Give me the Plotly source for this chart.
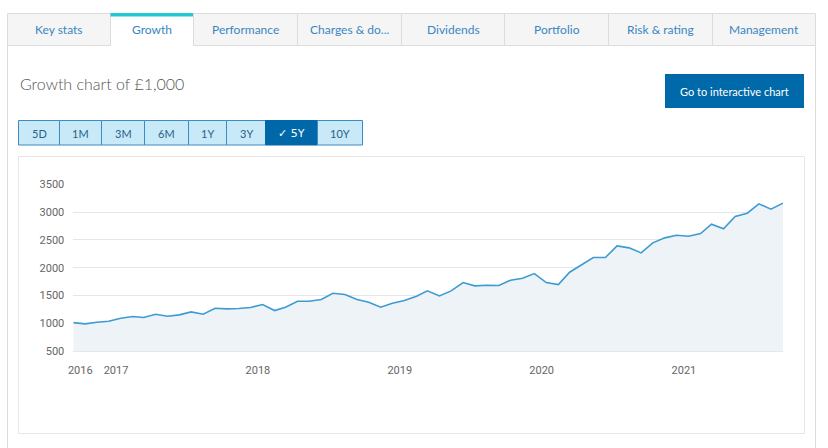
import plotly.graph_objects as go

# ---- data ----
dates = [f"{2016 + (8 + i) // 12}-{(8 + i) % 12 + 1:02d}-13" for i in range(61)]
values = [1010, 988, 1018, 1036, 1090, 1120, 1102, 1162, 1126, 1150,
          1204, 1162, 1270, 1258, 1264, 1282, 1336, 1228, 1288, 1396,
          1396, 1426, 1540, 1516, 1426, 1378, 1288, 1360, 1410, 1486,
          1582, 1492, 1582, 1732, 1672, 1684, 1678, 1774, 1810, 1894,
          1732, 1696, 1918, 2050, 2182, 2182, 2392, 2356, 2266, 2446,
          2536, 2584, 2566, 2614, 2782, 2698, 2920, 2980, 3148, 3052,
          3160]
year_ticks = ["2016-10-01", "2017-01-01", "2018-01-01", "2019-01-01", "2020-01-01", "2021-01-01"]
year_labels = ["2016", "2017", "2018", "2019", "2020", "2021"]
y_ticks = [500, 1000, 1500, 2000, 2500, 3000, 3500]
tabs = ["Key stats", "Growth", "Performance", "Charges & do...", "Dividends",
        "Portfolio", "Risk & rating", "Management"]
active_tab = 1
periods = ["5D", "1M", "3M", "6M", "1Y", "3Y", "\u2713 5Y", "10Y"]
active_period = 6
title_text = "Growth chart of \u00a31,000"
button_text = "Go to interactive chart"

W, H = 828, 448


def px(x):
    return x / W


def py(y):
    return 1 - y / H


FONT = "Lato"
shapes = []
annotations = []


def rect(x0, y0, x1, y1, fill, line=None, lw=1, layer="below"):
    shapes.append(dict(type="rect", xref="paper", yref="paper",
                       x0=px(x0), x1=px(x1), y0=py(y1), y1=py(y0),
                       fillcolor=fill, layer=layer,
                       line=dict(color=line if line else "rgba(0,0,0,0)", width=lw if line else 0)))


def vline(x, y0, y1, color, w=1):
    shapes.append(dict(type="line", xref="paper", yref="paper",
                       x0=px(x), x1=px(x), y0=py(y0), y1=py(y1), layer="below",
                       line=dict(color=color, width=w)))


def text(x, y, s, size, color, xanchor="center", family=FONT, weight="normal"):
    annotations.append(dict(xref="paper", yref="paper", x=px(x), y=py(y), text=s,
                            showarrow=False, xanchor=xanchor, yanchor="middle",
                            font=dict(family=family, size=size, color=color, weight=weight)))


# ---- tabs ----
tab_edges = [7.5, 110.5, 193.5, 297.5, 401.5, 504.5, 608.5, 712.5, 815.5]
BORDER = "#dcdcdc"
for i, name in enumerate(tabs):
    a, b = tab_edges[i], tab_edges[i + 1]
    if i == active_tab:
        rect(a, 13.5, b, 46, "#ffffff")
        vline(a, 13.5, 46, BORDER)
        vline(b, 13.5, 46, BORDER)
        rect(a, 13, b, 16.5, "#22c8d0")
    else:
        rect(a, 13.5, b, 45.5, "#f5f5f5", BORDER)
    text((a + b) / 2, 30, name, 12, "#3a86c2")

# panel borders
vline(7.5, 45.5, 448, BORDER)
vline(815.5, 45.5, 448, BORDER)

# title
text(17.5, 83, title_text, 16, "#555555", xanchor="left", weight=300)

# interactive chart button
rect(665, 74, 804, 108, "#0069a9")
text(734.5, 91.5, button_text, 11, "#ffffff")

# period buttons
p_edges = [18.5, 59.5, 101.5, 144.5, 188.5, 226.5, 265.5, 317.5, 362.5]
for i, lab in enumerate(periods):
    a, b = p_edges[i], p_edges[i + 1]
    if i == active_period:
        rect(a, 120.5, b, 145, "#0068a8", "#0068a8")
        text((a + b) / 2, 133, lab, 11, "#ffffff", family="DejaVu Sans")
    else:
        rect(a, 120.5, b, 145, "#c8eaf8", "#3b8cc6")
        text((a + b) / 2, 133, lab, 11, "#2c5f8a")

# chart box
rect(18.5, 156.5, 804.5, 433.5, "#ffffff", "#e6e6e6")

# ---- chart ----
fig = go.Figure()
fig.add_trace(go.Scatter(
    x=dates, y=values, mode="lines",
    line=dict(color="#3d9bd1", width=1.6),
    fill="tozeroy", fillcolor="#eef3f8",
    hoverinfo="skip", showlegend=False,
))

fig.update_layout(
    width=W, height=H, autosize=False,
    margin=dict(l=0, r=0, t=0, b=0),
    paper_bgcolor="#ffffff", plot_bgcolor="rgba(0,0,0,0)",
    shapes=shapes, annotations=annotations,
    showlegend=False,
    xaxis=dict(
        type="date", domain=[px(73.3), px(783)],
        range=[dates[0], dates[-1]],
        tickvals=year_ticks, ticktext=year_labels,
        showgrid=False, zeroline=False, ticks="",
        showline=True, linecolor="#e6e6e6", linewidth=1,
        ticklabelstandoff=9, automargin=False,
        tickfont=dict(family="Roboto", size=11, color="#666666"),
    ),
    yaxis=dict(
        domain=[py(351), py(184.3)],
        range=[500, 3500], tickvals=y_ticks,
        showgrid=True, gridcolor="#e6e6e6", gridwidth=1,
        zeroline=False, ticks="", showline=False,
        ticklabelstandoff=8, automargin=False,
        tickfont=dict(family="Roboto", size=11, color="#666666"),
    ),
)

fig.write_html("out.html", post_script="document.body.style.margin='0';document.body.style.overflow='hidden';")
